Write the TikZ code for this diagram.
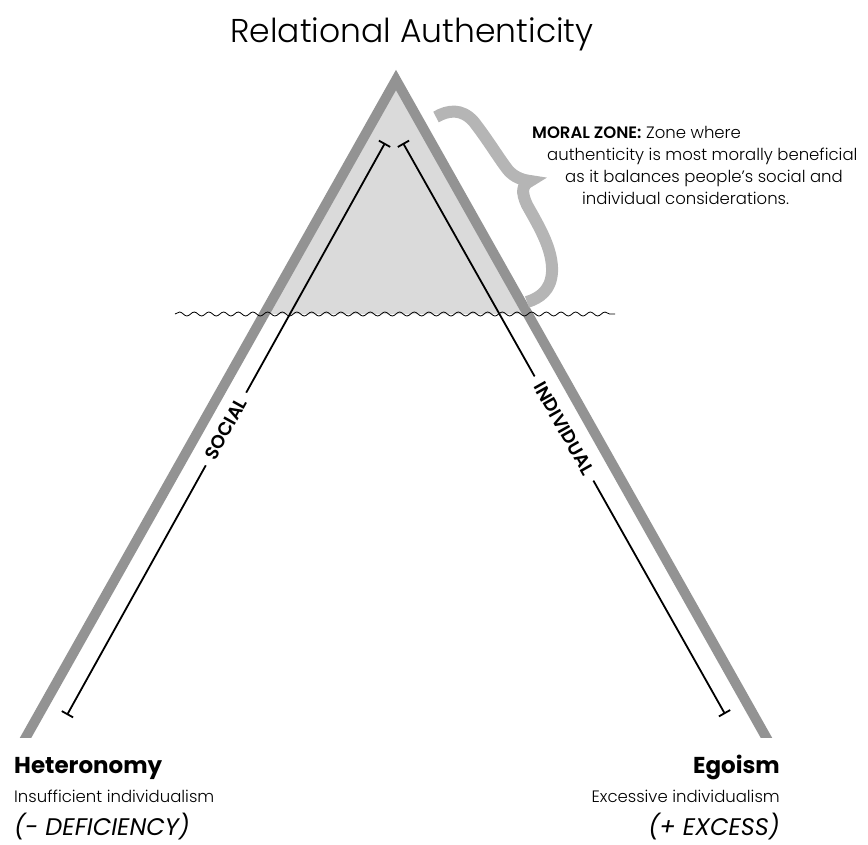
\documentclass[tikz,border=0pt]{standalone}
\usepackage{fontspec}
\setmainfont{Poppins}
\newfontfamily\lightfont{Poppins Light}
\newfontfamily\semifont{Poppins SemiBold}
\usetikzlibrary{arrows.meta,decorations.pathmorphing,positioning}
\definecolor{bargrey}{HTML}{939393}
\definecolor{zonegrey}{HTML}{DADADA}
\definecolor{bracegrey}{HTML}{B5B5B5}

\begin{document}
\begin{tikzpicture}[x=1pt,y=-1pt,
  bar/.style={draw=bargrey,line width=10pt,miter limit=20},
  axis/.style={line width=1.8pt,{Bar[width=13pt]}-{Bar[width=13pt]}},
  axislabel/.style={sloped,fill=white,inner xsep=8pt,inner ysep=4pt,font=\fontsize{18.5}{18.5}\selectfont\semifont},
  pole/.style={inner sep=0pt,font=\fontsize{23}{23}\selectfont\bfseries},
  poledesc/.style={inner sep=0pt,font=\fontsize{16.5}{16.5}\selectfont\lightfont},
  polesign/.style={inner sep=0pt,font=\fontsize{24}{24}\selectfont\itshape},
  note/.style={inner sep=0pt,anchor=base west,font=\fontsize{16.5}{16.5}\selectfont\lightfont}]
  \useasboundingbox (0,0) rectangle (868,844);

  \coordinate (apex) at (396,80);
  \coordinate (lbase) at (20.4,747);
  \coordinate (rbase) at (771.6,747);

  \fill[zonegrey] (264,314) -- (apex) -- (528,314) -- cycle;
  \begin{scope}
    \clip (0,0) rectangle (868,737);
    \draw[bar] (lbase) -- (apex) -- (rbase);
  \end{scope}

  \draw[decorate,decoration={snake,segment length=14.67pt,amplitude=2pt},line width=0.8pt]
    (175,314) -- (615,314);

  \draw[draw=bracegrey,line width=12pt]
    (436,117) .. controls (448,110) and (462,108) .. (474,122)
    .. controls (488,140) and (500,160) .. (508,170)
    .. controls (514,177) and (522,180) .. (530,181)
    .. controls (522,185) and (521,192) .. (527,205)
    .. controls (540,228) and (553,250) .. (552,272)
    .. controls (551,290) and (540,298) .. (527,302);

  \coordinate (stop) at (385,143);
  \coordinate (sbot) at (67,715);
  \coordinate (itop) at (403,143);
  \coordinate (ibot) at (725,714);
  \draw[axis] (sbot) -- node[axislabel] (social) {SOCIAL} (stop);
  \draw[axis] (itop) -- node[axislabel] (individual) {INDIVIDUAL} (ibot);

  \node[inner sep=0pt,anchor=base,font=\fontsize{33}{33}\selectfont\lightfont] (title) at (412,42) {Relational Authenticity};

  \node[note] (mz1) at (532,138) {{\semifont MORAL ZONE:} Zone where};
  \node[note] (mz2) at (547,160) {authenticity is most morally beneficial};
  \node[note] (mz3) at (565,182) {as it balances people’s social and};
  \node[note] (mz4) at (582,204) {individual considerations.};

  \node[pole,anchor=base west] (hetero) at (14,773) {Heteronomy};
  \node[poledesc,anchor=base west] (heterodesc) at (14,802) {Insufficient individualism};
  \node[polesign,anchor=base west] (heterosign) at (14,835) {(- DEFICIENCY)};
  \node[pole,anchor=base east] (ego) at (780,773) {Egoism};
  \node[poledesc,anchor=base east] (egodesc) at (780,802) {Excessive individualism};
  \node[polesign,anchor=base east] (egosign) at (780,835) {(+ EXCESS)};
\end{tikzpicture}
\end{document}
